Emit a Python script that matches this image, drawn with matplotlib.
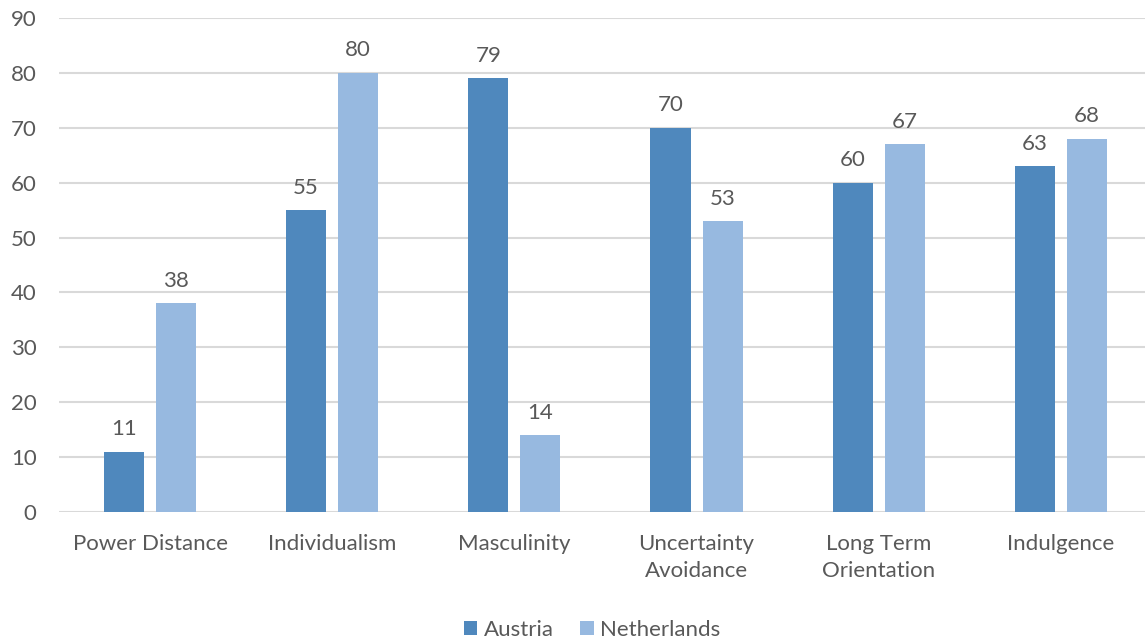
import numpy as np
import matplotlib
matplotlib.use("Agg")
import matplotlib.pyplot as plt

categories = ["Power Distance", "Individualism", "Masculinity",
              "Uncertainty\nAvoidance", "Long Term\nOrientation", "Indulgence"]
austria = [11, 55, 79, 70, 60, 63]
netherlands = [38, 80, 14, 53, 67, 68]

text_color = "#595959"
plt.rcParams["font.family"] = ["Lato", "DejaVu Sans"]

fig = plt.figure(figsize=(11.45, 6.41), dpi=100)
# plot area runs slightly past the right edge, as in the reference
ax = fig.add_axes([0.0515, 0.2012, 0.9546, 0.7708])

x = np.arange(len(categories))
w = 0.22
off = 0.143
b1 = ax.bar(x - off, austria, w, color="#4F88BD", label="Austria", zorder=3)
b2 = ax.bar(x + off, netherlands, w, color="#97B9E0", label="Netherlands", zorder=3)

for bars in (b1, b2):
    for rect in bars:
        h = rect.get_height()
        ax.annotate(str(int(h)), (rect.get_x() + rect.get_width() / 2, h),
                    xytext=(0, 9), textcoords="offset points",
                    ha="center", va="bottom", fontsize=16, color=text_color)

ax.set_xlim(-0.5, len(categories) - 0.5)
ax.set_ylim(0, 90)
ax.set_yticks(range(0, 91, 10))
ax.set_xticks(x)
ax.set_xticklabels(categories, linespacing=1.45)
ax.tick_params(axis="both", length=0, labelsize=16, labelcolor=text_color)
ax.tick_params(axis="x", pad=16)
ax.tick_params(axis="y", pad=16)
ax.grid(axis="y", color="#D9D9D9", linewidth=1.5, zorder=0)
for s in ax.spines.values():
    s.set_visible(False)

fig.legend(loc="lower center", ncol=2, bbox_to_anchor=(0.517, -0.029), frameon=False,
           fontsize=16, labelcolor=text_color, handlelength=0.6, handleheight=0.6,
           handletextpad=0.3, columnspacing=1.2)

fig.savefig("out.png", dpi=100)
